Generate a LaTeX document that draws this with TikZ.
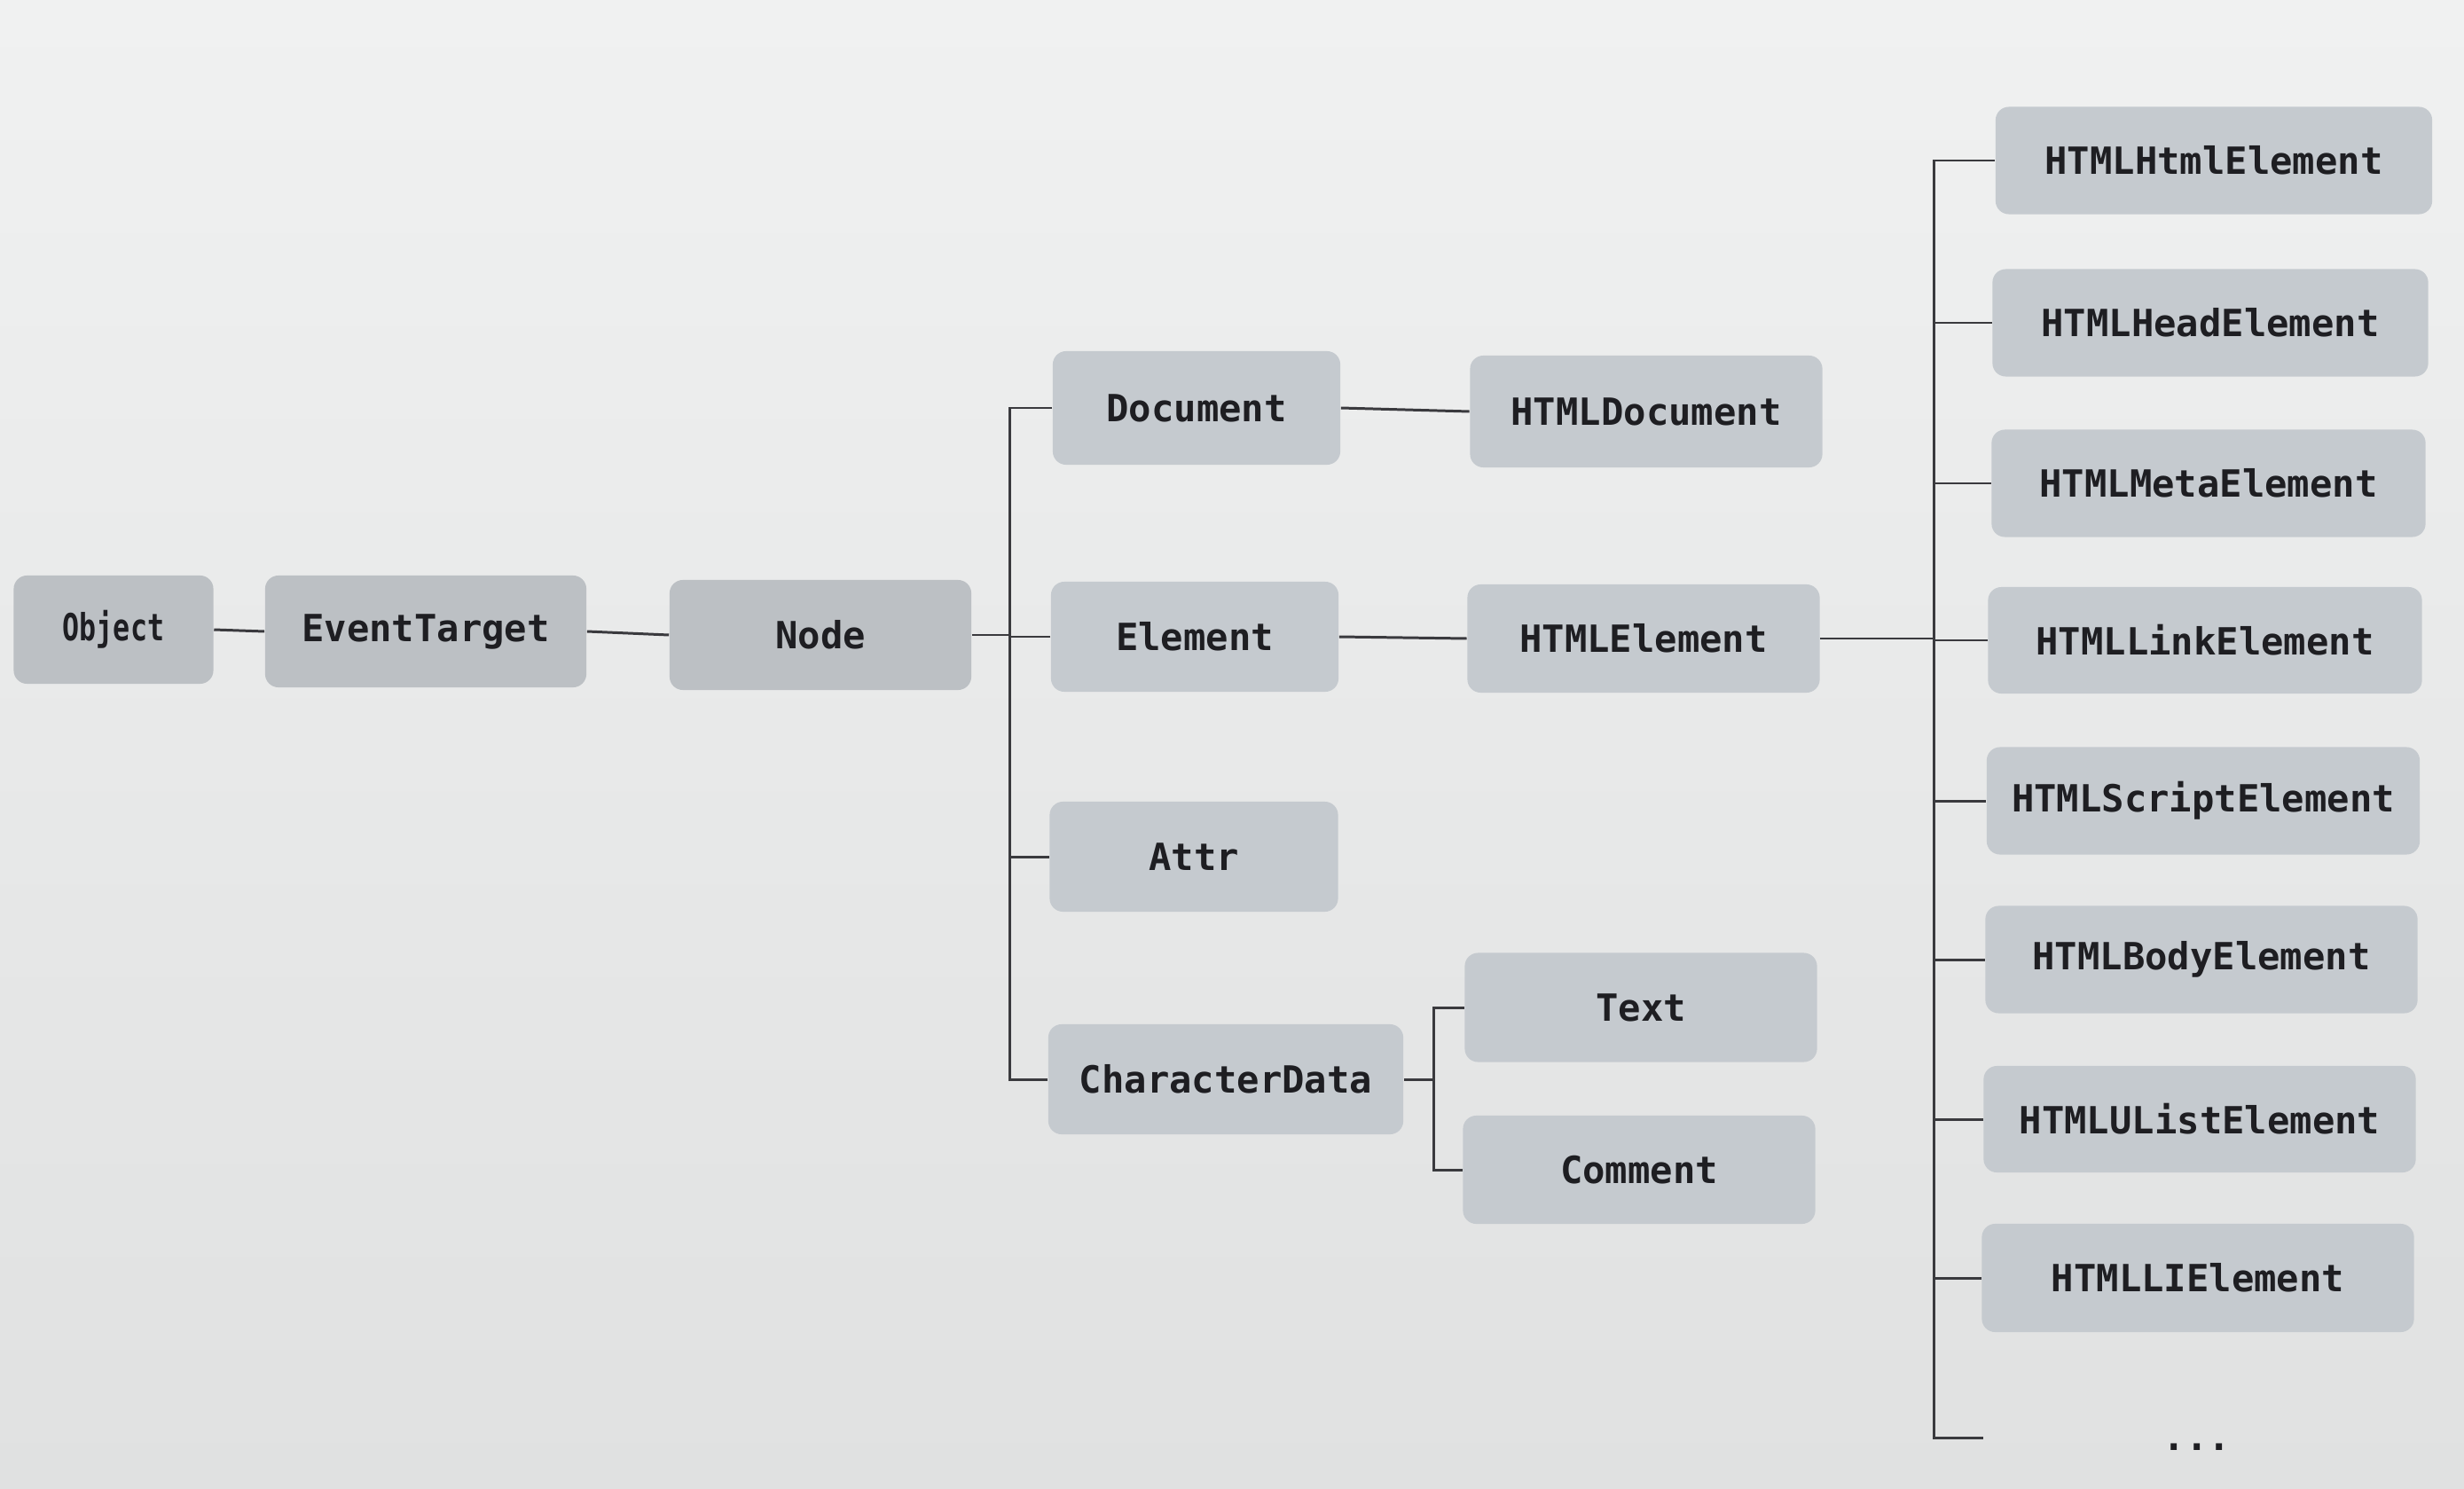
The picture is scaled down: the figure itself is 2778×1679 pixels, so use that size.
\documentclass[tikz,border=0pt]{standalone}
\usepackage{fontspec}
\usepackage{graphicx}
\newfontfamily\boxfont{DejaVu Sans Mono}
\definecolor{boxfill}{RGB}{197,202,207}
\definecolor{boxfilldk}{RGB}{188,192,196}
\definecolor{textc}{RGB}{30,30,34}
\definecolor{linec}{RGB}{58,58,62}
\definecolor{bgtop}{RGB}{240,241,241}
\definecolor{bgbot}{RGB}{224,225,225}
\tikzset{
  box/.style={fill=boxfill, rounded corners=0.15cm, text=textc,
    font=\boxfont\bfseries\fontsize{12}{14}\selectfont, inner sep=0pt},
  boxdk/.style={box, fill=boxfilldk},
  conn/.style={draw=linec, line width=0.85pt},
}
\begin{document}
\begin{tikzpicture}[x=0.01cm,y=-0.01cm]
\useasboundingbox (0,0) rectangle (2778,1679);
\shade[top color=bgtop, bottom color=bgbot] (0,0) rectangle (2778,1679);

% left chain
\node[boxdk, minimum width=2.25cm, minimum height=1.22cm] (obj) at (128,710) {\scalebox{0.75}[1]{Object}};
\node[boxdk, minimum width=3.62cm, minimum height=1.26cm] (evt) at (480,712) {EventTarget};
\node[boxdk, minimum width=3.40cm, minimum height=1.24cm] (nod) at (925,716) {Node};

% second column
\node[box, minimum width=3.24cm, minimum height=1.28cm] (doc) at (1349,460) {Document};
\node[box, minimum width=3.24cm, minimum height=1.24cm] (ele) at (1347,718) {Element};
\node[box, minimum width=3.25cm, minimum height=1.24cm] (att) at (1346,966) {Attr};
\node[box, minimum width=4.00cm, minimum height=1.24cm] (chd) at (1382,1217) {CharacterData};

% third column
\node[box, minimum width=3.97cm, minimum height=1.26cm] (hdoc) at (1856,464) {HTMLDocument};
\node[box, minimum width=3.97cm, minimum height=1.22cm] (hele) at (1853,720) {HTMLElement};
\node[box, minimum width=3.97cm, minimum height=1.23cm] (txt) at (1850,1136) {Text};
\node[box, minimum width=3.97cm, minimum height=1.22cm] (cmt) at (1848,1319) {Comment};

% right column
\node[box, minimum width=4.92cm, minimum height=1.21cm] (r1) at (2496,181) {HTMLHtmlElement};
\node[box, minimum width=4.91cm, minimum height=1.21cm] (r2) at (2492,364) {HTMLHeadElement};
\node[box, minimum width=4.89cm, minimum height=1.21cm] (r3) at (2490,545) {HTMLMetaElement};
\node[box, minimum width=4.89cm, minimum height=1.20cm] (r4) at (2486,722) {HTMLLinkElement};
\node[box, minimum width=4.88cm, minimum height=1.21cm] (r5) at (2484,903) {HTMLScriptElement};
\node[box, minimum width=4.87cm, minimum height=1.21cm] (r6) at (2482,1082) {HTMLBodyElement};
\node[box, minimum width=4.87cm, minimum height=1.20cm] (r7) at (2480,1262) {HTMLUListElement};
\node[box, minimum width=4.87cm, minimum height=1.22cm] (r8) at (2478,1441) {HTMLLIElement};
\node[text=textc, font=\boxfont\bfseries\fontsize{12}{14}\selectfont, inner sep=0pt] (dots) at (2477,1632) {...};
\coordinate (dend) at (2236,1621);

% trunks
\coordinate (k1) at (1138,0);
\coordinate (k2) at (1616,0);
\coordinate (k3) at (2180,0);

% connectors
\draw[conn] (obj.east) -- (evt.west);
\draw[conn] (evt.east) -- (nod.west);
\draw[conn] (nod.east) -- (nod.east -| k1);
\draw[conn] (doc.west) -- (doc.west -| k1) -- (chd.west -| k1) -- (chd.west);
\draw[conn] (ele.west) -- (ele.west -| k1);
\draw[conn] (att.west) -- (att.west -| k1);

\draw[conn] (doc.east) -- (hdoc.west);
\draw[conn] (ele.east) -- (hele.west);

\draw[conn] (chd.east) -- (chd.east -| k2);
\draw[conn] (txt.west) -- (txt.west -| k2) -- (cmt.west -| k2) -- (cmt.west);

\draw[conn] (hele.east) -- (hele.east -| k3);
\draw[conn] (r1.west) -- (r1.west -| k3) -- (dend -| k3) -- (dend);
\foreach \n in {r2,r3,r4,r5,r6,r7,r8}{
  \draw[conn] (\n.west) -- (\n.west -| k3);
}
\end{tikzpicture}
\end{document}
